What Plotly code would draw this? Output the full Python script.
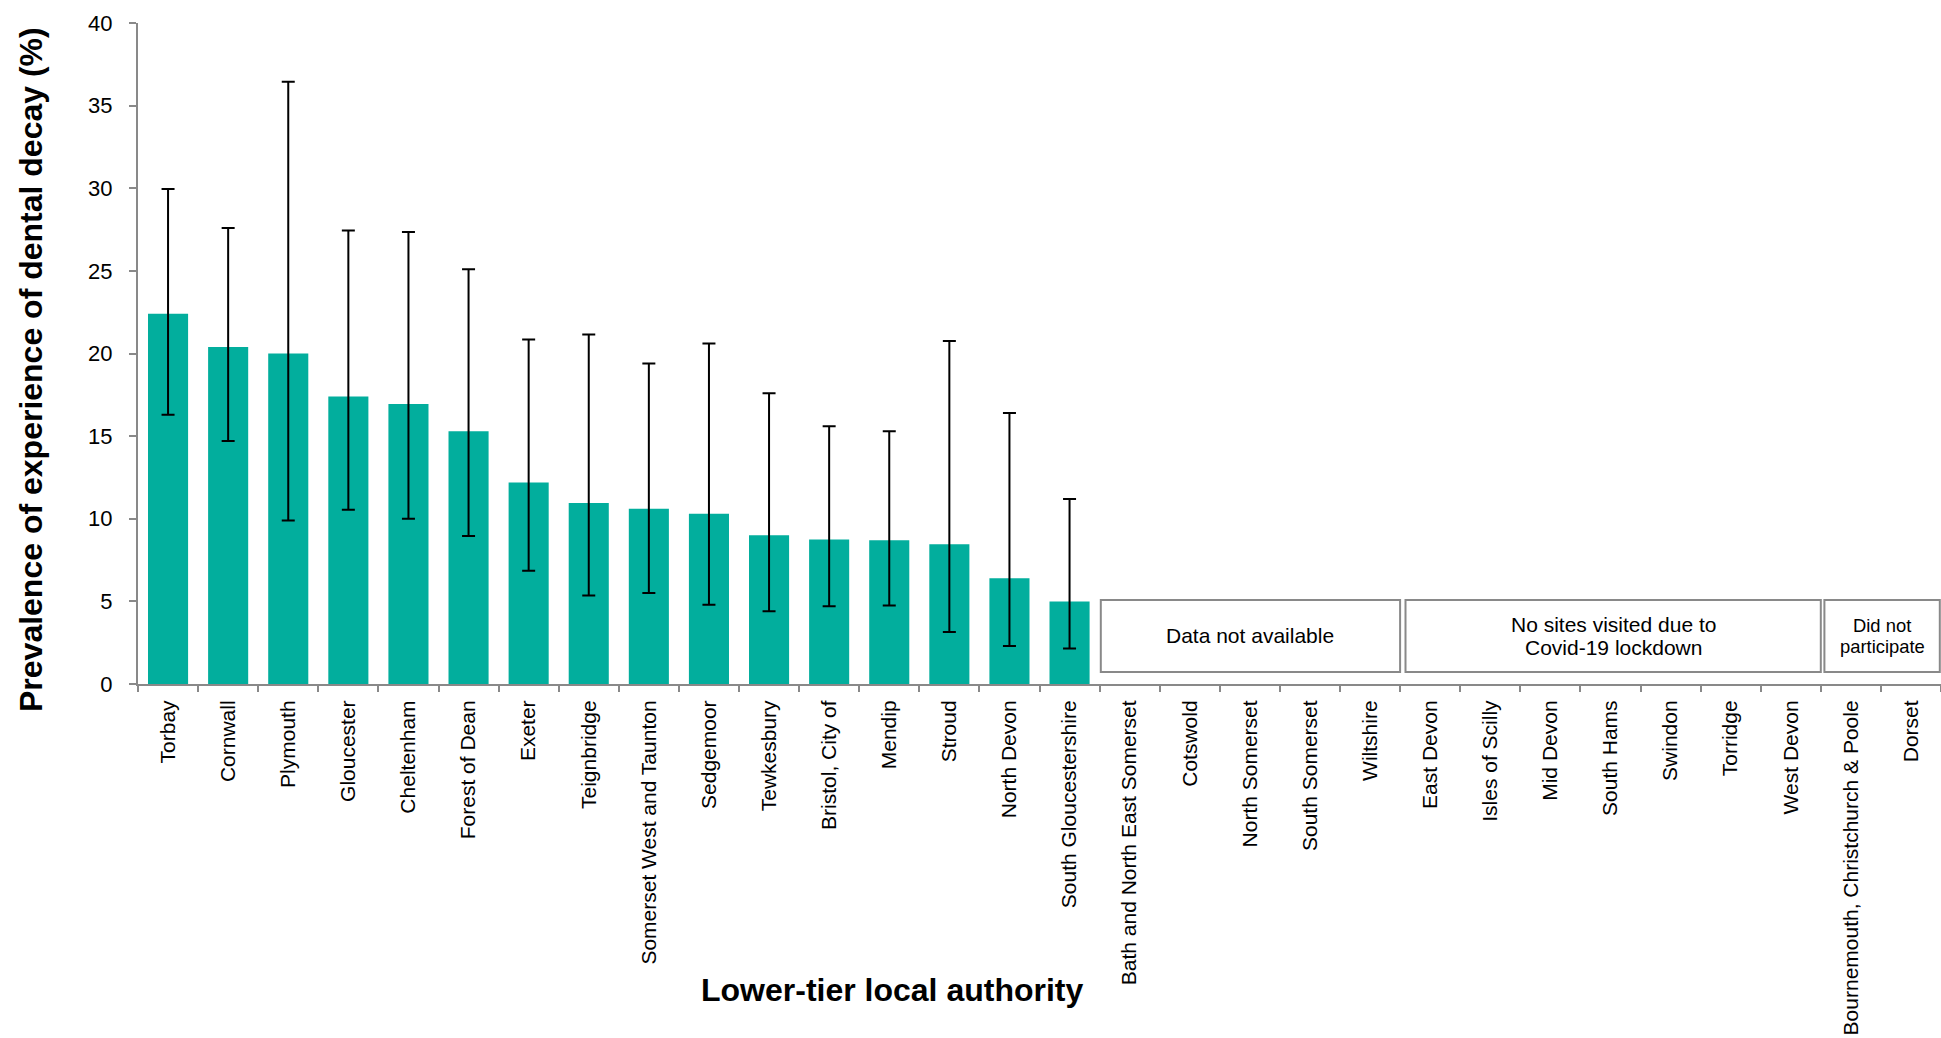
import plotly.graph_objects as go

categories = [
    "Torbay", "Cornwall", "Plymouth", "Gloucester", "Cheltenham", "Forest of Dean",
    "Exeter", "Teignbridge", "Somerset West and Taunton", "Sedgemoor", "Tewkesbury",
    "Bristol, City of", "Mendip", "Stroud", "North Devon", "South Gloucestershire",
    "Bath and North East Somerset", "Cotswold", "North Somerset", "South Somerset",
    "Wiltshire", "East Devon", "Isles of Scilly", "Mid Devon", "South Hams", "Swindon",
    "Torridge", "West Devon", "Bournemouth, Christchurch & Poole", "Dorset",
]
prevalence = [22.4, 20.4, 20.0, 17.4, 16.95, 15.3, 12.2, 10.95, 10.6, 10.3, 9.0,
              8.75, 8.7, 8.45, 6.4, 5.0] + [None] * 14
lower_ci = [16.3, 14.7, 9.9, 10.55, 10.0, 8.95, 6.85, 5.35, 5.5, 4.8, 4.4,
            4.7, 4.75, 3.15, 2.3, 2.15] + [None] * 14
upper_ci = [29.95, 27.6, 36.45, 27.45, 27.35, 25.1, 20.85, 21.15, 19.4, 20.6, 17.6,
            15.6, 15.3, 20.75, 16.4, 11.2] + [None] * 14
y_ticks = [0, 5, 10, 15, 20, 25, 30, 35, 40]

# grouped note boxes: (first category, last category, text lines, font size, line spacing px)
notes = [
    ("Bath and North East Somerset", "Wiltshire", ["Data not available"], 21, 0),
    ("East Devon", "West Devon", ["No sites visited due to", "Covid-19 lockdown"], 21, 23.5),
    ("Bournemouth, Christchurch & Poole", "Dorset", ["Did not", "participate"], 18.4, 21),
]

err_plus = [None if v is None else u - v for v, u in zip(prevalence, upper_ci)]
err_minus = [None if v is None else v - l for v, l in zip(prevalence, lower_ci)]

FONT = "Liberation Sans, Arial, sans-serif"
AXIS_GREY = "#898989"

fig = go.Figure()
fig.add_trace(go.Bar(
    x=categories, y=prevalence,
    marker=dict(color="#02AE9D", line=dict(width=0)),
    error_y=dict(type="data", array=err_plus, arrayminus=err_minus,
                 color="black", thickness=2, width=6.5, visible=True),
    hoverinfo="x+y",
))

W, H = 1941, 1038
ML, MR, MT, MB = 138, 0, 23, 354
pw = W - ML - MR
ph = H - MT - MB

shapes = []
annotations = []
box_y0, box_y1 = 0.73, 5.08
gaps = [0.02, 0.09, 0.06]
for (c0, c1, lines, fs, lsp), g in zip(notes, gaps):
    i0 = categories.index(c0)
    i1 = categories.index(c1)
    x0 = i0 - 0.5 + g
    x1 = i1 + 0.5 - (0.0 if c1 != categories[-1] else 0.02)
    shapes.append(dict(type="rect", xref="x", yref="y", x0=x0, x1=x1,
                       y0=box_y0, y1=box_y1,
                       line=dict(color=AXIS_GREY, width=2),
                       fillcolor="white", layer="above"))
    n = len(lines)
    for k, txt in enumerate(lines):
        shift = ((n - 1) / 2 - k) * lsp
        annotations.append(dict(x=(x0 + x1) / 2, y=(box_y0 + box_y1) / 2,
                                xref="x", yref="y", text=txt, showarrow=False,
                                yshift=shift,
                                font=dict(family=FONT, size=fs, color="black"),
                                xanchor="center", yanchor="middle"))

# axis titles placed as annotations (pixel-tuned)
annotations.append(dict(
    text="<b>Prevalence of experience of dental decay (%)</b>",
    x=(31 - ML) / pw, y=(H - MB - 370) / ph, xref="paper", yref="paper",
    textangle=-90, showarrow=False, xanchor="center", yanchor="middle",
    font=dict(family=FONT, size=32, color="black")))
annotations.append(dict(
    text="<b>Lower-tier local authority</b>",
    x=(892 - ML) / pw, y=(H - MB - 990) / ph, xref="paper", yref="paper",
    showarrow=False, xanchor="center", yanchor="middle",
    font=dict(family=FONT, size=32, color="black")))

fig.update_layout(
    width=W, height=H, autosize=False,
    margin=dict(l=ML, r=MR, t=MT, b=MB, pad=0),
    paper_bgcolor="white", plot_bgcolor="white",
    bargap=0.333,
    showlegend=False,
    font=dict(family=FONT, color="black"),
    shapes=shapes, annotations=annotations,
    xaxis=dict(
        type="category", categoryorder="array", categoryarray=categories,
        tickangle=-90, tickson="boundaries", ticks="outside", ticklen=6,
        tickwidth=2, tickcolor=AXIS_GREY, showline=True, linecolor=AXIS_GREY,
        linewidth=2, showgrid=False, zeroline=False,
        tickfont=dict(family=FONT, size=21, color="black"),
        range=[-0.5, len(categories) - 0.5], fixedrange=True,
        ticklabelstandoff=6,
    ),
    yaxis=dict(
        range=[0, 40], tickvals=y_ticks, ticks="outside", ticklen=7, tickwidth=2,
        tickcolor=AXIS_GREY, showline=True, linecolor=AXIS_GREY, linewidth=2,
        showgrid=False, zeroline=False,
        tickfont=dict(family=FONT, size=22, color="black"),
        ticklabelstandoff=12,
    ),
)

fig.write_html("out.html", config={"displayModeBar": False},
               post_script="document.body.style.margin='0';document.body.style.overflow='hidden';")
